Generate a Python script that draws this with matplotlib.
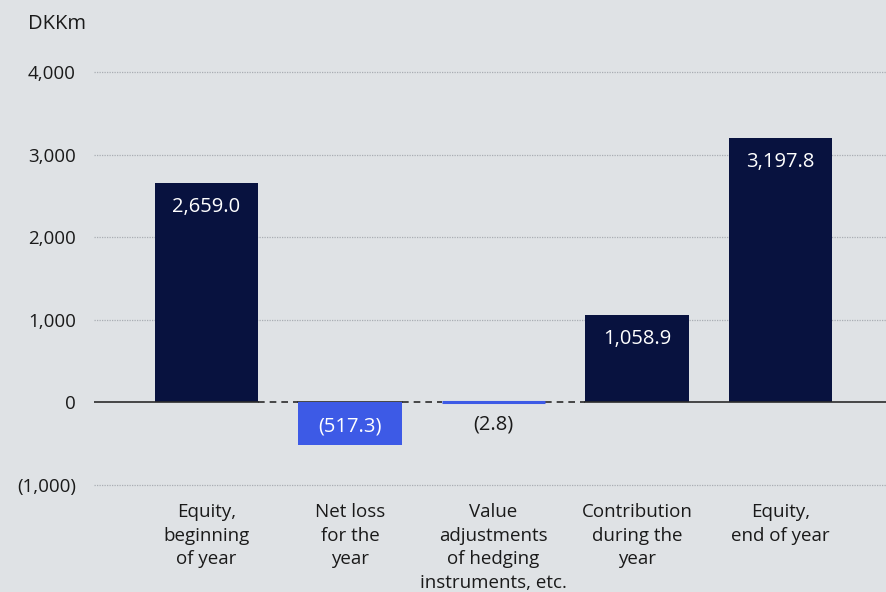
import numpy as np
import matplotlib.pyplot as plt

# Egenkapitalbevægelse, DKKm
categories = ["Equity,\nbeginning\nof year", "Net loss\nfor the\nyear",
              "Value\nadjustments\nof hedging\ninstruments, etc.",
              "Contribution\nduring the\nyear", "Equity,\nend of year"]
values = [2659.0, -517.3, -2.8, 1058.9, 3197.8]
labels = ["2,659.0", "(517.3)", "(2.8)", "1,058.9", "3,197.8"]
yticks = [-1000, 0, 1000, 2000, 3000, 4000]
ytick_labels = ["(1,000)", "0", "1,000", "2,000", "3,000", "4,000"]

BG = "#dfe2e5"
NAVY = "#08123f"
BLUE = "#3d5ae6"

plt.rcParams['font.family'] = ['Open Sans', 'DejaVu Sans']

fig = plt.figure(figsize=(8.86, 5.92), dpi=100, facecolor=BG)
ax = fig.add_axes([0.1061, 0.1672, 0.894, 0.760], facecolor=BG)

x = np.arange(len(values))
width = 0.72
colors = [BLUE if v < 0 else NAVY for v in values]
# very small bars get an outline so they stay visible
edge_w = [2.2 if abs(v) < 50 else 0 for v in values]
ax.bar(x, values, width=width, color=colors, edgecolor=colors,
       linewidth=edge_w, zorder=3)

xmin, xmax = -0.784, 4.735
ax.set_xlim(xmin, xmax)
ax.set_ylim(-1100, 4350)

# gridlines
for t in yticks:
    if t != 0:
        ax.axhline(t, color="#a9adb3", lw=0.9, ls=(0, (1, 1)), zorder=1)

# zero line: solid under bars, dashed in the gaps between the first four
zc = "#2b2b2b"
ax.plot([xmin, x[0] + width / 2], [0, 0], color=zc, lw=1.2, zorder=4)
ax.plot([x[1] - width / 2, x[1] + width / 2], [0, 0], color=zc, lw=1.2, zorder=2)
ax.plot([x[3] - width / 2, xmax], [0, 0], color=zc, lw=1.2, zorder=4)
for i in range(3):
    ax.plot([x[i] + width / 2, x[i + 1] - width / 2], [0, 0], color=zc,
            lw=1.2, ls=(0, (4, 3)), zorder=2)

# value labels
for i, (v, lab) in enumerate(zip(values, labels)):
    if v > 0:
        ax.text(x[i], v - 290, lab, ha="center", va="center", color="white",
                fontsize=14.5, zorder=5)
    elif abs(v) > 200:
        ax.text(x[i], v / 2 - 30, lab, ha="center", va="center", color="white",
                fontsize=14.5, zorder=5)
    else:
        ax.text(x[i], -270, lab, ha="center", va="center", color="#1a1a1a",
                fontsize=14.5, zorder=5)

ax.set_yticks(yticks)
ax.set_yticklabels(ytick_labels, fontsize=13.5, color="#1a1a1a")
ax.tick_params(axis="y", length=0, pad=13)
ax.set_xticks(x)
ax.set_xticklabels(categories, fontsize=13.5, color="#1a1a1a", linespacing=1.42,
                   family=['Liberation Sans Narrow', 'Open Sans', 'DejaVu Sans'])
ax.tick_params(axis="x", length=0, pad=7)

for s in ax.spines.values():
    s.set_visible(False)

fig.text(28 / 886, 1 - 24 / 592, "DKKm", ha="left", va="center", fontsize=14.5,
         color="#1a1a1a")

fig.savefig("out.png", dpi=100, facecolor=BG)
